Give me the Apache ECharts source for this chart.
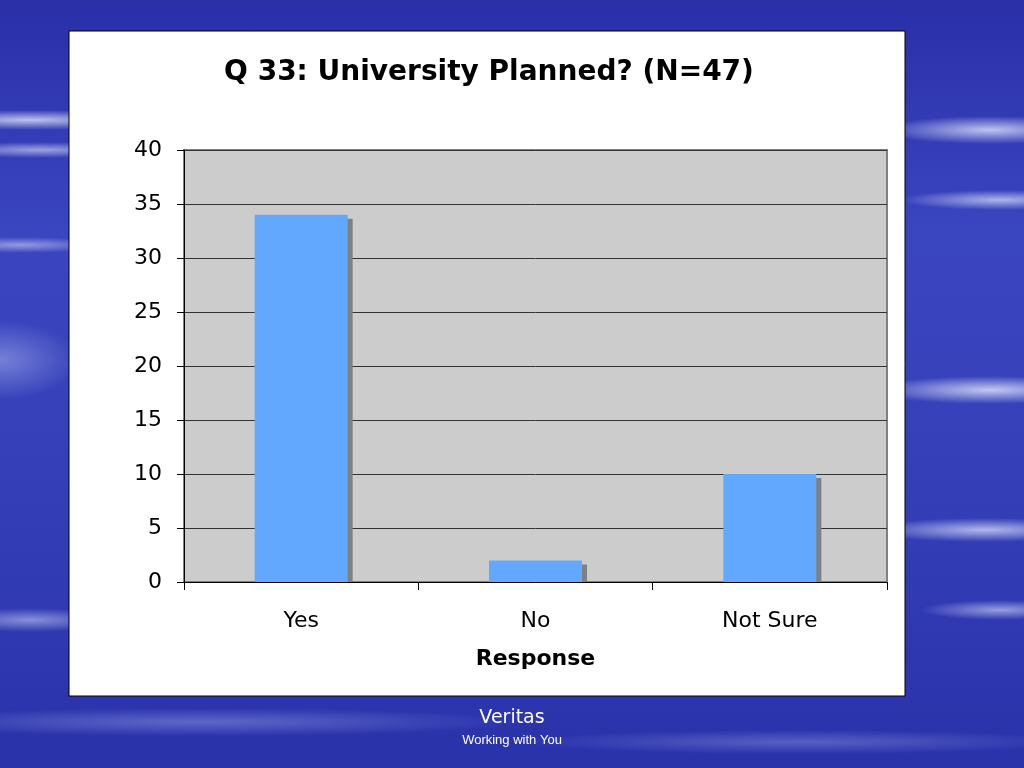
<!DOCTYPE html>
<html>
<head>
<meta charset="utf-8">
<script src="https://cdn.jsdelivr.net/npm/echarts@6/dist/echarts.min.js"></script>
<style>
html,body{margin:0;padding:0;width:1024px;height:768px;overflow:hidden;}
body{
  background:
    radial-gradient(ellipse 140px 10px at 30px 120px, rgba(235,240,255,0.75), rgba(235,240,255,0) 100%),
    radial-gradient(ellipse 110px 8px at 40px 150px, rgba(225,230,255,0.6), rgba(225,230,255,0) 100%),
    radial-gradient(ellipse 90px 8px at 20px 245px, rgba(220,225,255,0.55), rgba(220,225,255,0) 100%),
    radial-gradient(ellipse 80px 40px at 0px 360px, rgba(170,180,240,0.55), rgba(170,180,240,0) 100%),
    radial-gradient(ellipse 90px 12px at 30px 620px, rgba(210,215,250,0.55), rgba(210,215,250,0) 100%),
    radial-gradient(ellipse 110px 14px at 990px 130px, rgba(225,230,255,0.8), rgba(225,230,255,0) 100%),
    radial-gradient(ellipse 100px 10px at 1000px 200px, rgba(225,230,255,0.7), rgba(225,230,255,0) 100%),
    radial-gradient(ellipse 120px 14px at 990px 390px, rgba(230,235,255,0.8), rgba(230,235,255,0) 100%),
    radial-gradient(ellipse 120px 12px at 985px 530px, rgba(220,225,255,0.75), rgba(220,225,255,0) 100%),
    radial-gradient(ellipse 80px 10px at 1000px 610px, rgba(220,225,255,0.6), rgba(220,225,255,0) 100%),
    radial-gradient(ellipse 320px 14px at 200px 722px, rgba(170,180,240,0.4), rgba(170,180,240,0) 100%),
    radial-gradient(ellipse 280px 12px at 800px 742px, rgba(170,180,240,0.35), rgba(170,180,240,0) 100%),
    linear-gradient(180deg, #2a2fa8 0%, #3a45c0 30%, #3540b8 60%, #2a32aa 100%);
}
#chart{width:1024px;height:768px;}
</style>
</head>
<body>
<div id="chart"></div>
<script>
var categories = ['Yes', 'No', 'Not Sure'];
var responseCounts = [34, 2, 10];
var yTicks = [0, 5, 10, 15, 20, 25, 30, 35, 40];

var chart = echarts.init(document.getElementById('chart'), null, {renderer: 'canvas'});
var font = 'DejaVu Sans, Verdana, sans-serif';
var BAR_W = 93;

chart.setOption({
  backgroundColor: 'transparent',
  animation: false,
  graphic: [
    {type: 'rect', z: -10, shape: {x: 69, y: 31, width: 836, height: 665},
     style: {fill: '#ffffff', stroke: '#000000', lineWidth: 1}},
    {type: 'text', left: 'center', top: 709, z: 10,
     style: {text: 'Veritas', fill: '#ffffff', font: '19px "DejaVu Sans", Verdana, sans-serif',
             textShadowColor: 'rgba(0,0,0,0.5)', textShadowOffsetX: 1, textShadowOffsetY: 1}},
    {type: 'text', left: 'center', top: 734, z: 10,
     style: {text: 'Working with You', fill: '#ffffff', font: '13px "Liberation Sans", Arial, sans-serif',
             textShadowColor: 'rgba(0,0,0,0.5)', textShadowOffsetX: 1, textShadowOffsetY: 1}}
  ],
  title: {
    text: 'Q 33: University Planned? (N=47)',
    left: 484, textAlign: 'center', top: 54,
    textStyle: {fontFamily: font, fontSize: 28, fontWeight: 'bold', color: '#000'}
  },
  grid: {
    left: 184, top: 150, width: 703, height: 432,
    show: true, backgroundColor: '#cccccc', borderColor: '#808080', borderWidth: 2
  },
  xAxis: {
    type: 'category',
    data: categories,
    name: 'Response',
    nameLocation: 'middle',
    nameGap: 66,
    nameTextStyle: {fontFamily: font, fontSize: 22, fontWeight: 'bold', color: '#000'},
    axisLine: {show: true, lineStyle: {color: '#000', width: 1}},
    axisTick: {show: true, alignWithLabel: false, length: 8, lineStyle: {color: '#000'}},
    axisLabel: {fontFamily: font, fontSize: 22, color: '#000', margin: 28}
  },
  yAxis: {
    type: 'value',
    min: 0, max: 40, interval: 5,
    axisLine: {show: true, lineStyle: {color: '#000', width: 1}},
    axisTick: {show: true, length: 7, lineStyle: {color: '#000'}},
    axisLabel: {fontFamily: font, fontSize: 22, color: '#000', margin: 22,
      formatter: function (v) { return yTicks.indexOf(v) >= 0 ? String(v) : ''; }},
    splitLine: {show: true, lineStyle: {color: '#333333', width: 1}}
  },
  series: [
    {
      type: 'custom',
      name: 'shadow',
      z: 1,
      data: responseCounts.map(function (v, i) { return [i, v]; }),
      renderItem: function (params, api) {
        var top = api.coord([api.value(0), api.value(1)]);
        var base = api.coord([api.value(0), 0]);
        var x = top[0] - BAR_W / 2 + 5;
        var y = top[1] + 4;
        return {
          type: 'rect',
          shape: {x: x, y: y, width: BAR_W, height: Math.max(0, base[1] - y)},
          style: {fill: '#808080'}
        };
      }
    },
    {
      type: 'bar',
      z: 2,
      data: responseCounts,
      barWidth: BAR_W,
      itemStyle: {color: '#62a8ff'}
    }
  ]
});
</script>
</body>
</html>
